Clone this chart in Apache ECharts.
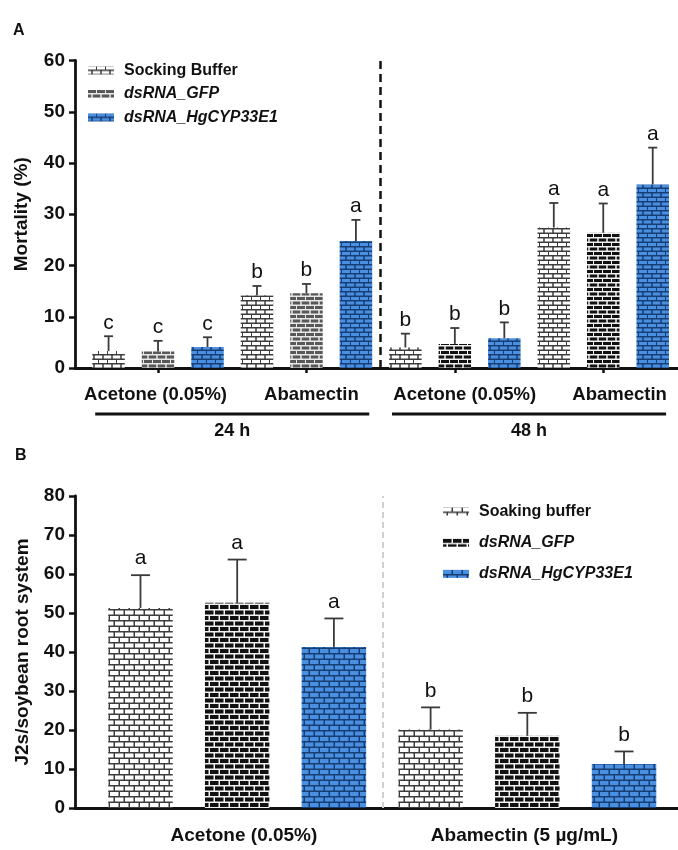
<!DOCTYPE html>
<html><head><meta charset="utf-8">
<script src="https://cdn.jsdelivr.net/npm/echarts@6/dist/echarts.min.js"></script>
<style>html,body{margin:0;padding:0;background:#fff}#c{width:678px;height:850px}</style>
</head><body><div id="c"></div>
<script>
// ---------------- Data ----------------
const treatmentsA = ['Socking Buffer', 'dsRNA_GFP', 'dsRNA_HgCYP33E1'];
const treatmentsB = ['Soaking buffer', 'dsRNA_GFP', 'dsRNA_HgCYP33E1'];
const groupLabelsA = ['Acetone (0.05%)', 'Abamectin', 'Acetone (0.05%)', 'Abamectin'];
const timeLabelsA = ['24 h', '48 h'];
const groupLabelsB = ['Acetone (0.05%)', 'Abamectin (5 µg/mL)'];

// Panel A: mortality (%), groups = Acetone 24h, Abamectin 24h, Acetone 48h, Abamectin 48h
const socMeanA = [3.3, 14.2, 4.0, 27.4];
const socSdA   = [2.9, 1.8, 2.7, 4.8];
const socSigA  = ['c', 'b', 'b', 'a'];
const gfpMeanA = [3.2, 14.6, 4.7, 26.4];
const gfpSdA   = [2.1, 1.8, 3.1, 5.7];
const gfpSigA  = ['c', 'b', 'b', 'a'];
const hgMeanA  = [4.1, 24.8, 5.8, 35.8];
const hgSdA    = [1.9, 4.1, 3.1, 7.2];
const hgSigA   = ['c', 'a', 'b', 'a'];

// Panel B: J2s per soybean root system, groups = Acetone, Abamectin
const socMeanB = [51.3, 20.1];
const socSdB   = [8.4, 5.7];
const socSigB  = ['a', 'b'];
const gfpMeanB = [52.6, 18.5];
const gfpSdB   = [11.1, 5.9];
const gfpSigB  = ['a', 'b'];
const hgMeanB  = [41.3, 11.3];
const hgSdB    = [7.3, 3.2];
const hgSigB   = ['a', 'b'];

// ---------------- Styles ----------------
const FONT = '"Liberation Sans", Arial, Helvetica, sans-serif';
function brick(brickCol, mortarCol, w, rowH, bh) {
  const c = document.createElement('canvas');
  c.width = w; c.height = rowH * 2;
  const x = c.getContext('2d');
  x.fillStyle = mortarCol; x.fillRect(0, 0, w, rowH * 2);
  x.fillStyle = brickCol;
  const bw = w - 1.5;
  x.fillRect(0, 0, bw, bh);
  x.fillRect(-w / 2, rowH, bw, bh);
  x.fillRect(w / 2, rowH, bw, bh);
  return { image: c, repeat: 'repeat' };
}
const patA = {
  white: brick('#ffffff', '#3c3c3c', 9.5, 4.5, 3),
  gray: brick('#585858', '#e8e8e8', 9.5, 4.5, 3),
  black: brick('#111111', '#f2f2f2', 9.5, 4.5, 3),
  blue: brick('#4a90e2', '#173d73', 9.5, 4.5, 3)
};
const patB = {
  white: brick('#ffffff', '#3c3c3c', 10, 5.5, 4),
  black: brick('#111111', '#f2f2f2', 10, 5.5, 4),
  blue: brick('#4a90e2', '#173d73', 10, 5.5, 4)
};

// ---------------- Build ----------------
const recsA = [], recsB = [];
const meansA = [socMeanA, gfpMeanA, hgMeanA], sdsA = [socSdA, gfpSdA, hgSdA], sigsA = [socSigA, gfpSigA, hgSigA];
const meansB = [socMeanB, gfpMeanB, hgMeanB], sdsB = [socSdB, gfpSdB, hgSdB], sigsB = [socSigB, gfpSigB, hgSigB];
const colA = (s, g) => s === 0 ? patA.white : s === 2 ? patA.blue : (g < 2 ? patA.gray : patA.black);
const colB = (s) => s === 0 ? patB.white : s === 2 ? patB.blue : patB.black;

const series = [];
treatmentsA.forEach((name, s) => {
  const data = meansA[s].map((m, g) => {
    recsA.push({ x: g * 3 + s, m: m, s: sdsA[s][g], sig: sigsA[s][g] });
    return { value: [g * 3 + s, m], itemStyle: { color: colA(s, g) } };
  });
  series.push({
    type: 'bar', name: name, xAxisIndex: 0, yAxisIndex: 0, barWidth: 32.5, barGap: '-100%',
    itemStyle: { color: colA(s, 0) }, data: data, z: 2,
    markLine: s === 0 ? { symbol: 'none', silent: true, label: { show: false },
      lineStyle: { type: [8, 5], color: '#111', width: 2.5 }, data: [{ xAxis: 5.5 }] } : undefined
  });
});
treatmentsB.forEach((name, s) => {
  const data = meansB[s].map((m, g) => {
    recsB.push({ x: g * 3 + s, m: m, s: sdsB[s][g], sig: sigsB[s][g] });
    return { value: [g * 3 + s, m], itemStyle: { color: colB(s) } };
  });
  series.push({
    type: 'bar', name: name, xAxisIndex: 2, yAxisIndex: 1, barWidth: 64.5, barGap: '-100%',
    itemStyle: { color: colB(s) }, data: data, z: 2,
    markLine: s === 0 ? { symbol: 'none', silent: true, label: { show: false },
      lineStyle: { type: [6, 4], color: '#cfcfcf', width: 2 }, data: [{ xAxis: 2.5 }] } : undefined
  });
});

function errSeries(xi, yi, recs, cap, gap) {
  return {
    type: 'custom', xAxisIndex: xi, yAxisIndex: yi, z: 5, silent: true,
    data: recs.map(r => [r.x, r.m, r.s]), encode: { x: 0, y: 1 },
    renderItem: (params, api) => {
      const x = api.value(0), m = api.value(1), s = api.value(2);
      const p0 = api.coord([x, m]), p1 = api.coord([x, m + s]);
      const st = { stroke: '#3a3a3a', lineWidth: 1.8 };
      return { type: 'group', children: [
        { type: 'line', shape: { x1: p0[0], y1: p0[1], x2: p1[0], y2: p1[1] }, style: st },
        { type: 'line', shape: { x1: p1[0] - cap / 2, y1: p1[1], x2: p1[0] + cap / 2, y2: p1[1] }, style: st },
        { type: 'text', style: { text: recs[params.dataIndex].sig, x: p1[0], y: p1[1] - gap,
            align: 'center', verticalAlign: 'bottom', font: '21px ' + FONT, fill: '#111' } }
      ] };
    }
  };
}
series.push(errSeries(0, 0, recsA, 9, 3));
series.push(errSeries(2, 1, recsB, 19, 6));

const axisLine = { show: true, onZero: false, lineStyle: { color: '#111', width: 2.8 } };
const labelFont = { fontFamily: FONT, fontWeight: 'bold', color: '#111' };
const labelShiftA = [-0.05, 0.1, 0.2, 0.33];
const labelPosA = groupLabelsA.map((_, g) => g * 3 + 1 + labelShiftA[g]);
const timePosA = timeLabelsA.map((_, k) => k * 6 + 2.5);
const labelShiftB = [0.07, -0.03];
const labelPosB = groupLabelsB.map((_, g) => g * 3 + 1 + labelShiftB[g]);
const pick = (pos, labels) => v => { const i = pos.findIndex(p => Math.abs(p - v) < 1e-6); return i >= 0 ? labels[i] : ''; };

const legendText = {
  fontFamily: FONT, fontSize: 16, fontWeight: 'bold', color: '#111', lineHeight: 16, padding: [0, 0, 0, 5],
  rich: {
    n: { fontFamily: FONT, fontSize: 16, fontWeight: 'bold', color: '#111' },
    i: { fontFamily: FONT, fontSize: 16, fontWeight: 'bold', fontStyle: 'italic', color: '#111' }
  }
};
const legendFmt = n => (n === 'Socking Buffer' || n === 'Soaking buffer') ? '{n|' + n + '}' : '{i|' + n + '}';

const option = {
  animation: false,
  backgroundColor: '#fff',
  grid: [
    { left: 75, right: 0, top: 60.5, height: 307.5 },
    { left: 75, right: 0, top: 496, height: 312 }
  ],
  legend: [
    { orient: 'vertical', left: 83, top: 57.5, itemWidth: 26, itemHeight: 8, itemGap: 7.5, selectedMode: false,
      icon: 'rect', data: treatmentsA, textStyle: legendText, formatter: legendFmt },
    { orient: 'vertical', left: 438, top: 498.5, itemWidth: 26, itemHeight: 8, itemGap: 15.2, selectedMode: false,
      icon: 'rect', textStyle: legendText, formatter: legendFmt,
      data: treatmentsB.map((n, s) => ({ name: n, itemStyle: { color: colB(s) } })) }
  ],
  xAxis: [
    { type: 'value', gridIndex: 0, position: 'bottom', min: -0.6786, max: 11.511, axisLine: axisLine, splitLine: { show: false },
      axisTick: { show: true, customValues: [1, 4, 7, 10], length: 5, lineStyle: { color: '#111', width: 2.5 } },
      axisLabel: Object.assign({ customValues: labelPosA, formatter: pick(labelPosA, groupLabelsA), fontSize: 18.5, margin: 17 }, labelFont) },
    { type: 'value', gridIndex: 0, position: 'bottom', min: -0.6786, max: 11.511, axisLine: { show: false }, splitLine: { show: false },
      axisTick: { show: false },
      axisLabel: Object.assign({ customValues: timePosA, formatter: pick(timePosA, timeLabelsA), fontSize: 18, margin: 54 }, labelFont) },
    { type: 'value', gridIndex: 1, position: 'bottom', min: -0.677, max: 5.558, axisLine: axisLine, splitLine: { show: false },
      axisTick: { show: false },
      axisLabel: Object.assign({ customValues: labelPosB, formatter: pick(labelPosB, groupLabelsB), fontSize: 19, margin: 18 }, labelFont) }
  ],
  yAxis: [
    { type: 'value', gridIndex: 0, min: 0, max: 60, interval: 10, axisLine: axisLine, splitLine: { show: false },
      axisTick: { show: true, length: 6, lineStyle: { color: '#111', width: 2.5 } },
      axisLabel: Object.assign({ fontSize: 19, margin: 10 }, labelFont),
      name: 'Mortality (%)', nameLocation: 'middle', nameGap: 44,
      nameTextStyle: { fontFamily: FONT, fontSize: 19, fontWeight: 'bold', color: '#111' } },
    { type: 'value', gridIndex: 1, min: 0, max: 80, interval: 10, axisLine: axisLine, splitLine: { show: false },
      axisTick: { show: true, length: 6, lineStyle: { color: '#111', width: 2.5 } },
      axisLabel: Object.assign({ fontSize: 19, margin: 10 }, labelFont),
      name: 'J2s/soybean root system', nameLocation: 'middle', nameGap: 43,
      nameTextStyle: { fontFamily: FONT, fontSize: 19, fontWeight: 'bold', color: '#111' } }
  ],
  series: series
};

const chart = echarts.init(document.getElementById('c'), null, { renderer: 'canvas' });
chart.setOption(option);

// group brackets under panel A, derived from axis scale
const y0 = chart.convertToPixel({ yAxisIndex: 0 }, 0);
const brackets = timeLabelsA.map((_, k) => {
  const xa = chart.convertToPixel({ xAxisIndex: 0 }, k * 6 - 0.27);
  const xb = chart.convertToPixel({ xAxisIndex: 0 }, k * 6 + 5.27);
  return { type: 'line', shape: { x1: xa, y1: y0 + 46, x2: xb, y2: y0 + 46 }, style: { stroke: '#111', lineWidth: 3 } };
});
chart.setOption({
  graphic: [
    { type: 'text', left: 13, top: 23, style: { text: 'A', font: 'bold 16px ' + FONT, fill: '#111' } },
    { type: 'text', left: 15, top: 448, style: { text: 'B', font: 'bold 16px ' + FONT, fill: '#111' } }
  ].concat(brackets)
});
</script>
</body></html>
